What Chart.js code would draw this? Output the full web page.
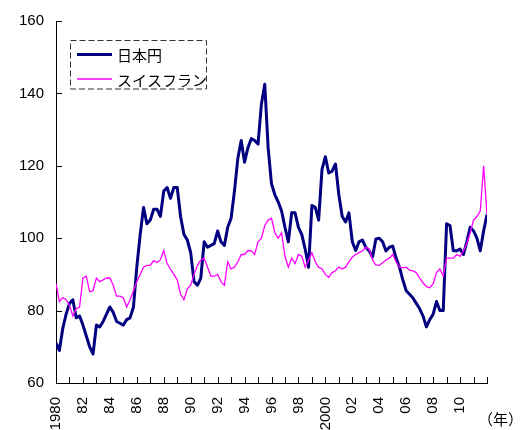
<!DOCTYPE html>
<html lang="ja">
<head>
<meta charset="utf-8">
<script src="https://cdn.jsdelivr.net/npm/chart.js@4/dist/chart.umd.min.js"></script>
<style>
  html, body { margin: 0; padding: 0; background: #fff; }
  #wrap { width: 525px; height: 430px; position: relative; }
</style>
</head>
<body>
<div id="wrap"><canvas id="c" width="525" height="430"></canvas></div>
<script>
// Real effective exchange rate index, quarterly readings from 1980 to 2012
const seriesNames = ['日本円', 'スイスフラン'];

const yen = [
  71, 69, 75, 79, 82, 83, 78, 78.5,            // 1980-81
  76, 73, 70, 68, 76, 75.5, 77, 79,            // 1982-83
  81, 79.5, 77, 76.5, 76, 77.5, 78, 81,        // 1984-85
  92, 101, 108.5, 104, 105, 108, 108, 106,     // 1986-87
  113, 114, 111, 114, 114, 106, 101, 99.5,     // 1988-89
  96, 88, 87, 89, 99, 97.5, 98, 98.5,          // 1990-91
  102, 99, 98, 103, 105.5, 113, 122, 127,      // 1992-93
  121, 125, 127.5, 127, 126, 137, 142.5, 125,  // 1994-95
  115, 112, 110, 107.5, 103, 99, 107, 107,     // 1996-97
  103, 101, 97, 92, 109, 108.5, 105, 119,      // 1998-99
  122.5, 118, 118.5, 120.5, 112, 106, 104.5, 107, // 2000-01
  99, 96.6, 99, 99.5, 97.5, 96.5, 94.8, 99.8,  // 2002-03
  100, 99, 96.5, 97.5, 97.8, 94.5, 92, 88.5,   // 2004-05
  85.5, 84.5, 83.5, 82, 80.5, 78.5, 75.5, 77.5, // 2006-07
  79, 82.5, 80, 80, 104, 103.5, 96.5, 96.5,    // 2008-09
  97, 95.5, 99, 103, 102, 100, 96.5, 102,      // 2010-11
  106.5                                         // 2012
];

const chf = [
  87.5, 82.5, 83.6, 83, 81.5, 78.5, 80.5, 81,  // 1980-81
  89, 89.5, 85.2, 85.5, 89, 88, 88.5, 89,      // 1982-83
  89, 87, 84, 84, 83.5, 81, 83, 85.5,          // 1984-85
  88, 90, 92, 92.5, 92.5, 93.8, 93.3, 94,      // 1986-87
  96.6, 93, 91.5, 90, 88.5, 84.5, 83, 86,      // 1988-89
  87, 90, 92.5, 94, 94.5, 92, 89.5, 89.5,      // 1990-91
  90, 88, 87, 93.5, 91.5, 92, 93.5, 95.5,      // 1992-93
  95.5, 96.6, 96.5, 95.5, 99, 100, 103.5, 105, // 1994-95
  105.5, 101.5, 100, 101.5, 95, 92, 94.5, 93,  // 1996-97
  95.5, 95, 92, 94, 96, 93.5, 92, 91.5,        // 1998-99
  90, 89.2, 90.5, 91, 92, 91.5, 92, 93.5,      // 2000-01
  94.8, 95.5, 96, 96.5, 97.5, 97, 94, 92.6,    // 2002-03
  92.5, 93.2, 94, 94.5, 95.5, 93.5, 92, 91.8,  // 2004-05
  92, 91.2, 91, 90.5, 89, 87.7, 86.6, 86.3,    // 2006-07
  87.4, 90.5, 91.5, 89.5, 94.5, 94.5, 94.5, 95.5, // 2008-09
  95, 96.5, 98.5, 101.5, 105, 106, 107.5, 120, // 2010-11
  106.5                                         // 2012
];

// time axis in years, one entry per quarter
const quarters = yen.map((_, i) => 1980 + i / 4);

// axis labels
const yearLabels = {
  1980: '1980', 1982: '82', 1984: '84', 1986: '86', 1988: '88',
  1990: '90', 1992: '92', 1994: '94', 1996: '96', 1998: '98',
  2000: '2000', 2002: '02', 2004: '04', 2006: '06', 2008: '08', 2010: '10'
};
const unitLabel = '（年）';

const tickFont = { family: '"Liberation Sans", Arial, sans-serif', size: 15 };
const jpFont = '15px "Noto Sans CJK JP", sans-serif';

const toPoints = vals => vals.map((v, i) => ({ x: quarters[i], y: v }));

// inward tick marks, the dashed legend box and the unit label
const decorations = {
  id: 'decorations',
  afterDraw(chart) {
    const { ctx, scales: { x, y }, chartArea } = chart;
    ctx.save();
    ctx.strokeStyle = '#000';
    ctx.lineWidth = 1;
    ctx.beginPath();
    x.ticks.forEach(t => {
      const px = Math.round(x.getPixelForValue(t.value)) + 0.5;
      ctx.moveTo(px, chartArea.bottom);
      ctx.lineTo(px, chartArea.bottom - 6);
    });
    y.ticks.forEach(t => {
      const py = Math.round(y.getPixelForValue(t.value)) + 0.5;
      ctx.moveTo(chartArea.left, py);
      ctx.lineTo(chartArea.left + 6, py);
    });
    ctx.stroke();

    // legend
    ctx.setLineDash([6, 3]);
    ctx.strokeStyle = '#333';
    ctx.strokeRect(70.5, 40.5, 136, 48.5);
    ctx.setLineDash([]);
    const rows = [54.5, 79];
    chart.data.datasets.forEach((ds, i) => {
      ctx.strokeStyle = ds.borderColor;
      ctx.lineWidth = i === 0 ? 3 : 1.5;
      ctx.beginPath();
      ctx.moveTo(77, rows[i]);
      ctx.lineTo(112, rows[i]);
      ctx.stroke();
      ctx.fillStyle = '#000';
      ctx.font = jpFont;
      ctx.textBaseline = 'middle';
      ctx.textAlign = 'left';
      ctx.fillText(ds.label, 117, rows[i] + 1);
    });

    ctx.font = jpFont;
    ctx.fillStyle = '#000';
    ctx.textBaseline = 'middle';
    ctx.textAlign = 'left';
    ctx.fillText(unitLabel, 478, 419);
    ctx.restore();
  }
};

new Chart(document.getElementById('c'), {
  type: 'line',
  data: {
    datasets: [
      {
        label: seriesNames[0],
        data: toPoints(yen),
        borderColor: '#000080',
        borderWidth: 3,
        pointRadius: 0,
        tension: 0,
        borderJoinStyle: 'round',
        order: 1
      },
      {
        label: seriesNames[1],
        data: toPoints(chf),
        borderColor: '#ff00ff',
        borderWidth: 1.3,
        pointRadius: 0,
        tension: 0,
        order: 0
      }
    ]
  },
  options: {
    responsive: false,
    animation: false,
    events: [],
    layout: { padding: { left: 0, right: 38, top: 19.5, bottom: 0 } },
    plugins: { legend: { display: false }, tooltip: { enabled: false } },
    scales: {
      x: {
        type: 'linear',
        min: 1980,
        max: 2012,
        grid: { display: false, drawTicks: false },
        border: { display: true, color: '#000', width: 1 },
        afterFit(scale) { scale.height = 47; },
        ticks: {
          stepSize: 1,
          autoSkip: false,
          minRotation: 90,
          maxRotation: 90,
          padding: 14,
          color: '#000',
          font: tickFont,
          callback: v => yearLabels[v] || ''
        }
      },
      y: {
        min: 60,
        max: 160,
        grid: { display: false, drawTicks: false },
        border: { display: true, color: '#000', width: 1 },
        afterFit(scale) { scale.width = 56; },
        ticks: {
          stepSize: 20,
          padding: 12,
          color: '#000',
          font: tickFont
        }
      }
    }
  },
  plugins: [decorations]
});
</script>
</body>
</html>
